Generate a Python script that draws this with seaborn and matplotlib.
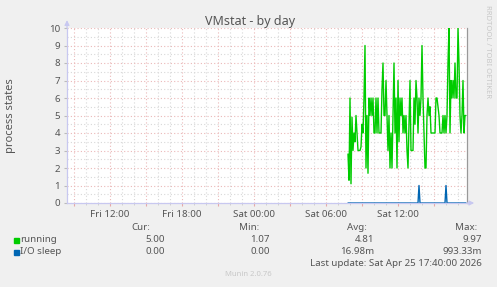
import numpy as np
import pandas as pd
import matplotlib
matplotlib.use("Agg")
import matplotlib.pyplot as plt
import matplotlib.dates as mdates
from matplotlib.ticker import MultipleLocator, FuncFormatter
from matplotlib.patches import Rectangle
import seaborn as sns

# ---------------- data ----------------
title = "VMstat - by day"
ylabel = "process states"
series_names = ["running", "I/O sleep"]
series_colors = ["#00CC00", "#0066B3"]

running = [2.8, 1.3, 6.0, 1.1, 4.9, 3.0, 4.0, 3.5, 5.0, 4.0,
           3.0, 3.0, 3.0, 3.2, 4.5, 4.0, 6.0, 9.0, 2.0, 5.0,
           1.7, 6.0, 5.0, 6.0, 5.0, 6.0, 4.0, 4.0, 6.0, 4.0,
           6.0, 4.0, 4.0, 4.0, 6.5, 8.0, 5.0, 5.0, 7.0, 5.0,
           3.0, 5.0, 2.0, 4.0, 2.0, 5.0, 8.0, 4.0, 6.0, 2.0,
           7.0, 3.5, 6.0, 5.0, 6.0, 4.0, 5.0, 4.0, 5.0, 3.0,
           2.0, 4.5, 7.0, 3.0, 3.0, 3.0, 6.0, 4.5, 7.0, 6.0,
           4.0, 6.0, 5.0, 6.0, 9.0, 6.0, 4.0, 2.0, 2.0, 5.0,
           6.0, 5.0, 5.5, 4.0, 4.0, 4.0, 4.0, 4.0, 6.0, 6.0,
           5.5, 5.0, 4.0, 4.0, 4.0, 5.0, 4.0, 5.0, 4.0, 5.0,
           8.0, 10.0, 4.0, 7.0, 6.0, 7.0, 6.0, 8.0, 6.0, 6.0,
           10.0, 8.0, 5.0, 4.0, 5.0, 7.0, 4.0, 5.0, 5.0]

io_sleep = [0, 0, 0, 0, 0, 0, 0, 0, 0, 0,
            0, 0, 0, 0, 0, 0, 0, 0, 0, 0,
            0, 0, 0, 0, 0, 0, 0, 0, 0, 0,
            0, 0, 0, 0, 0, 0, 0, 0, 0, 0,
            0, 0, 0, 0, 0, 0, 0, 0, 0, 0,
            0, 0, 0, 0, 0, 0, 0, 0, 0, 0,
            0, 0, 0, 0, 0, 0, 0, 0, 0, 0,
            0, 1, 0, 0, 0, 0, 0, 0, 0, 0,
            0, 0, 0, 0, 0, 0, 0, 0, 0, 0,
            0, 0, 0, 0, 0, 0, 0, 0, 1, 0,
            0, 0, 0, 0, 0, 0, 0, 0, 0, 0,
            0, 0, 0, 0, 0, 0, 0, 0, 0]

stat_headers = ["Cur:", "Min:", "Avg:", "Max:"]
stat_cur = ["5.00", "0.00"]
stat_min = ["1.07", "0.00"]
stat_avg = ["4.81", "16.98m"]
stat_max = ["9.97", "993.33m"]
last_update = "Last update: Sat Apr 25 17:40:00 2026"
footer = "Munin 2.0.76"
side_text = "RRDTOOL / TOBI OETIKER"

data_start = "2026-04-25 07:50"
view_start = "2026-04-24 08:25"
view_end = "2026-04-25 17:45"

# ---------------- build frame ----------------
times = pd.date_range(data_start, periods=len(running), freq="5min")
df = pd.concat([
    pd.DataFrame({"time": times, "value": running, "series": series_names[0]}),
    pd.DataFrame({"time": times, "value": io_sleep, "series": series_names[1]}),
])

sns.set_theme(style="white")
plt.rcParams["font.family"] = ["Noto Sans", "DejaVu Sans"]
TXT = "#555555"

W, H = 497, 287
fig = plt.figure(figsize=(W / 100, H / 100), dpi=100, facecolor="#F0F0F0")
ax = fig.add_axes([67 / W, 1 - 203 / H, 400 / W, 175 / H])
ax.set_facecolor("white")

sns.lineplot(data=df, x="time", y="value", hue="series",
             palette=dict(zip(series_names, series_colors)),
             legend=False, linewidth=1.0, ax=ax)

ax.set_xlim(pd.Timestamp(view_start), pd.Timestamp(view_end))
ax.set_ylim(0, 10)

ax.xaxis.set_major_locator(mdates.HourLocator(byhour=range(0, 24, 3)))
ax.xaxis.set_minor_locator(mdates.HourLocator())

def fmt(v, pos):
    d = mdates.num2date(v)
    return d.strftime("%a %H:%M") if d.hour % 6 == 0 else ""

ax.xaxis.set_major_formatter(FuncFormatter(fmt))
ax.yaxis.set_major_locator(MultipleLocator(1))
ax.yaxis.set_minor_locator(MultipleLocator(0.5))

ax.grid(which="major", color="#EBB8B8", linestyle=(0, (1, 2)), linewidth=0.8)
ax.grid(which="minor", color="#D8D8D8", linestyle=(0, (1, 2)), linewidth=0.8)
ax.set_axisbelow(True)

ax.tick_params(axis="x", which="major", length=2, width=0.8, color="#E6A8A8",
               labelsize=7, labelcolor=TXT, pad=3, bottom=True)
ax.tick_params(axis="x", which="minor", length=1.5, width=0.6, color="#CCCCCC", bottom=True)
ax.tick_params(axis="y", which="major", length=2, width=0.8, color="#BBBBBB",
               labelsize=7, labelcolor=TXT, pad=3, left=True)
ax.tick_params(axis="y", which="minor", length=0)

ax.set_xlabel("")
ax.set_ylabel(ylabel, fontsize=8, color=TXT)
ax.yaxis.label.set_va("center")
ax.yaxis.set_label_coords(-57 / 400, 0.5)

ax.spines["top"].set_visible(False)
ax.spines["left"].set_color("#C8C8F0")
ax.spines["bottom"].set_color("#C8C8F0")
ax.spines["right"].set_color("#999999")
for s in ["left", "bottom", "right"]:
    ax.spines[s].set_linewidth(0.9)

# axis arrows
ax.annotate("", xy=(0, 1.045), xytext=(0, 1.0), xycoords="axes fraction",
            arrowprops=dict(arrowstyle="-|>", color="#C8C8F0", lw=0.9,
                            mutation_scale=7, shrinkA=0, shrinkB=0))
ax.annotate("", xy=(1.018, 0), xytext=(1.0, 0), xycoords="axes fraction",
            arrowprops=dict(arrowstyle="-|>", color="#C8C8F0", lw=0.9,
                            mutation_scale=7, shrinkA=0, shrinkB=0))

def fx(x):
    return x / W

def fy(y):
    return 1 - y / H

fig.text(fx(250), fy(21), title, ha="center", va="center", fontsize=9, color=TXT)
fig.text(fx(487), fy(5), side_text, ha="center", va="top", rotation=270,
         fontsize=5.5, color="#C8C8C8")

# legend / stats
hdr_x = [150, 259, 367, 477]
val_x = [165, 270, 374, 482]
for hx, h in zip(hdr_x, stat_headers):
    fig.text(fx(hx), fy(227), h, ha="right", va="center", fontsize=7, color=TXT)

rows_y = [239.5, 251.5]
for i, name in enumerate(series_names):
    y = rows_y[i]
    fig.patches.append(Rectangle((fx(14), fy(y + 3)), 5 / W, 5 / H,
                                 transform=fig.transFigure, color=series_colors[i]))
    fig.text(fx(20.5), fy(y), name, ha="left", va="center", fontsize=7, color=TXT)
    for vx, col in zip(val_x, [stat_cur, stat_min, stat_avg, stat_max]):
        fig.text(fx(vx), fy(y), col[i], ha="right", va="center", fontsize=7, color=TXT)

fig.text(fx(482), fy(263), last_update, ha="right", va="center", fontsize=7, color=TXT)
fig.text(fx(248), fy(274), footer, ha="center", va="center", fontsize=5.5, color="#C8C8C8")

fig.savefig("out.png", dpi=100, facecolor=fig.get_facecolor())
